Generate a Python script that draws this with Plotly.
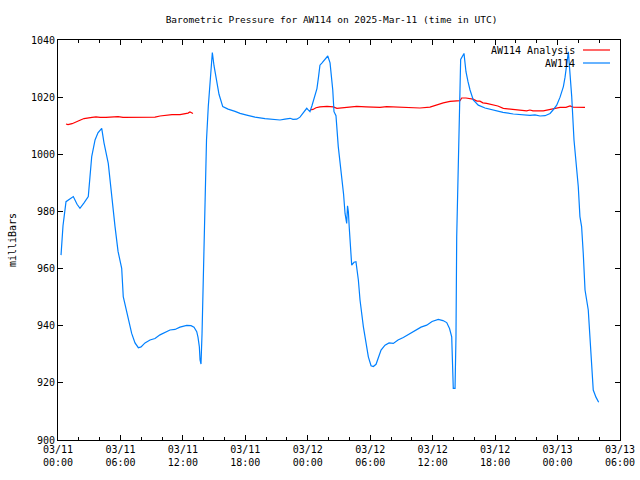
import plotly.graph_objects as go
from datetime import datetime, timedelta

T0 = datetime(2025, 3, 11, 0, 0)

# Observed station pressure (hours since 03/11 00:00 UTC, mbar)
obs_hours = [0.29, 0.48, 0.77, 1.15, 1.47, 1.83, 2.11, 2.5, 2.91, 3.07, 3.24, 3.56, 3.84, 4.2, 4.42, 4.83,
             5.09, 5.48, 5.77, 6.12, 6.27, 6.63, 7.08, 7.4, 7.72, 7.98, 8.36, 8.84, 9.32, 9.8, 10.28, 10.76,
             11.24, 11.72, 12.37, 12.78, 13.07, 13.33, 13.45, 13.58, 13.65, 13.74, 13.84, 13.96, 14.06, 14.13,
             14.27, 14.44, 14.6, 14.7, 14.83, 14.99, 15.25, 15.47, 15.83, 16.34, 17.01, 17.49, 18.13, 18.93,
             19.89, 20.85, 21.33, 21.81, 22.3, 22.58, 22.94, 23.25, 23.54, 23.9, 24.02, 24.21, 24.4, 24.69,
             24.88, 25.03, 25.17, 25.37, 25.66, 25.92, 26.14, 26.4, 26.52, 26.71, 26.93, 27.1, 27.26, 27.44,
             27.58, 27.74, 27.82, 27.9, 27.99, 28.06, 28.22, 28.44, 28.63, 28.86, 29.02, 29.34, 29.6, 29.82,
             30.08, 30.3, 30.56, 30.78, 31.04, 31.42, 31.81, 32.22, 32.67, 33.18, 33.82, 34.47, 34.88, 35.43,
             35.94, 36.54, 36.99, 37.35, 37.62, 37.83, 37.93, 37.98, 38.15, 38.24, 38.31, 38.46, 38.58, 38.69,
             39.01, 39.2, 39.39, 39.59, 39.9, 40.16, 40.38, 41.03, 41.83, 42.76, 43.75, 44.59, 45.35, 45.83,
             46.31, 46.8, 47.28, 47.56, 47.92, 48.24, 48.56, 48.72, 48.88, 49.04, 49.2, 49.36, 49.58, 49.77,
             49.99, 50.15, 50.31, 50.47, 50.64, 50.95, 51.12, 51.28, 51.43, 51.69, 51.95]
obs_values = [964.7, 975, 983.4, 984.5, 985.2, 982.5, 981.1, 983, 985.2, 992, 999.2, 1005, 1007.5, 1009.1, 1004, 996.8,
              987, 974.7, 966, 960.1, 950.2, 944, 937.3, 934, 932.3, 932.6, 934, 935, 935.5, 936.8, 937.8, 938.5,
              938.7, 939.5, 940.1, 940, 939.5, 937.9, 936, 932.7, 928, 926.6, 937.3, 957.7, 973.5, 993.3,
              1005, 1016.7, 1025, 1032, 1035.6, 1031, 1024.8, 1021, 1016.7, 1015.8, 1015, 1014.3, 1013.7, 1013,
              1012.5, 1012.2, 1012.0, 1012.3, 1012.6, 1012.2, 1012.3, 1013, 1014.5, 1016.1, 1015.6, 1014.9, 1017, 1020.2,
              1023, 1027, 1031.2, 1032, 1033.5, 1034.4, 1032, 1022.5, 1014.9, 1013.5, 1002.7, 997, 993.3, 986,
              979.3, 975.8, 982, 979.9, 974.1, 970, 961.2, 962.2, 962.4, 956, 949, 939.7, 933, 929.1,
              926, 925.7, 926.5, 929.1, 931.5, 933.2, 934, 933.8, 935, 935.9, 937.2, 938.5, 939.5, 940.2,
              941.5, 942.2, 941.8, 941.1, 939, 936.1, 926.8, 918.1, 918.1, 936.1, 971.2, 994.5, 1020, 1033.2,
              1035.3, 1028.9, 1025.5, 1022.5, 1019, 1018, 1017.2, 1016.2, 1015.5, 1014.7, 1014.1, 1013.8, 1013.6, 1013.8,
              1013.4, 1013.5, 1014.3, 1015.5, 1017.2, 1020, 1023.7, 1027, 1031.8, 1035.9, 1028, 1020.2, 1005, 997,
              988.7, 978.2, 974.7, 965.3, 952.5, 945.5, 935, 923.3, 917.5, 915, 913.2]

# Analysis pressure (None marks the data gap)
ana_hours = [0.77, 0.96, 1.35, 1.73, 2.11, 2.5, 2.88, 3.27, 3.65, 4.04, 4.61, 5.28, 5.77, 6.25, 6.92, 7.69,
             8.36, 8.84, 9.32, 9.8, 10.38, 10.95, 11.72, 12.49, 12.68, 12.97, 18.0,
             24.21, 24.5, 24.79, 25.17, 25.85, 26.45, 26.8, 27.58, 28.7, 29.6, 30.94, 31.58, 32.38, 33.63,
             34.78, 35.74, 36.03, 36.42, 37.02, 37.67, 38.63, 38.79, 39.2, 39.87, 40.26, 40.54, 40.83, 41.18,
             41.78, 42.26, 42.79, 43.43, 44.1, 45.03, 45.35, 45.64, 46.63, 47.28, 47.59, 48.24, 48.81, 49.2,
             49.49, 50.64]
ana_values = [1010.6, 1010.4, 1010.7, 1011.2, 1011.9, 1012.5, 1012.8, 1012.9, 1013.1, 1012.9, 1012.9, 1013.2,
              1013.2, 1012.9, 1012.9, 1012.9, 1013.0, 1012.8, 1013.0, 1013.4, 1013.7, 1013.9, 1013.9, 1014.4,
              1014.8, 1014.3, None,
              1015.5, 1015.7, 1016.3, 1016.6, 1016.8, 1016.6, 1016.1, 1016.3, 1016.8, 1016.6, 1016.4, 1016.7,
              1016.6, 1016.3, 1016.2, 1016.5, 1016.9, 1017.3, 1018.0, 1018.5, 1018.8, 1019.7, 1019.7, 1019.3,
              1018.6, 1018.6, 1018.0, 1017.8, 1017.3, 1016.9, 1016.1, 1015.8, 1015.5, 1015.2, 1015.5, 1015.2,
              1015.2, 1015.7, 1016.1, 1016.4, 1016.4, 1016.9, 1016.5, 1016.4]

y_ticks = [900, 920, 940, 960, 980, 1000, 1020, 1040]

def to_t(hs):
    return [T0 + timedelta(hours=h) for h in hs]

FONT = "DejaVu Sans Mono"
RED = "#ff0000"
BLUE = "#0080ff"

fig = go.Figure()
fig.add_trace(go.Scatter(x=to_t(ana_hours), y=ana_values, mode="lines", name="AW114 Analysis",
                         line=dict(color=RED, width=1.2), connectgaps=False, showlegend=False))
fig.add_trace(go.Scatter(x=to_t(obs_hours), y=obs_values, mode="lines", name="AW114",
                         line=dict(color=BLUE, width=1.2), showlegend=False))

# gnuplot-style legend: right-aligned text with line sample to its right
legend_items = [("AW114 Analysis", RED), ("AW114", BLUE)]
for i, (txt, col) in enumerate(legend_items):
    ypix = 50 + i * 13
    yp = 1 - (ypix - 40) / 400
    fig.add_annotation(text=txt, xref="paper", yref="paper", x=(577 - 58) / 562, y=yp,
                       xanchor="right", yanchor="middle", showarrow=False,
                       font=dict(family=FONT, size=10, color="black"))
    fig.add_shape(type="line", xref="paper", yref="paper",
                  x0=(583 - 58) / 562, x1=(610 - 58) / 562, y0=yp, y1=yp,
                  line=dict(color=col, width=1.2))

fig.update_layout(
    width=640, height=480,
    margin=dict(l=58, r=20, t=40, b=40, autoexpand=False),
    paper_bgcolor="white", plot_bgcolor="white",
    title=dict(text="Barometric Pressure for AW114 on 2025-Mar-11 (time in UTC)",
               x=(165 + 498) / 2 / 640, xanchor="center", y=1 - 20 / 480, yanchor="middle",
               font=dict(family=FONT, size=9.5, color="black")),
    font=dict(family=FONT, size=10, color="black"),
)
fig.update_xaxes(
    range=[T0, T0 + timedelta(hours=54)], automargin=False,
    dtick=6 * 3600 * 1000, tick0=T0, tickformat="%m/%d<br>%H:%M",
    ticks="inside", ticklen=5, tickcolor="black",
    minor=dict(dtick=2 * 3600 * 1000, ticks="inside", ticklen=3, tickcolor="black"),
    showline=True, linecolor="black", linewidth=1, mirror="ticks",
    showgrid=False, zeroline=False,
    tickfont=dict(family=FONT, size=10, color="black"),
)
fig.update_yaxes(
    range=[900, 1040], tickvals=y_ticks, automargin=False,
    ticks="inside", ticklen=5, tickcolor="black",
    showline=True, linecolor="black", linewidth=1, mirror="ticks",
    showgrid=False, zeroline=False,
    title=dict(text="milliBars", font=dict(family=FONT, size=10, color="black"), standoff=12),
    tickfont=dict(family=FONT, size=10, color="black"),
)

fig.write_html("out.html", config={"displayModeBar": False},
               post_script="document.body.style.margin='0';document.body.style.overflow='hidden';")
